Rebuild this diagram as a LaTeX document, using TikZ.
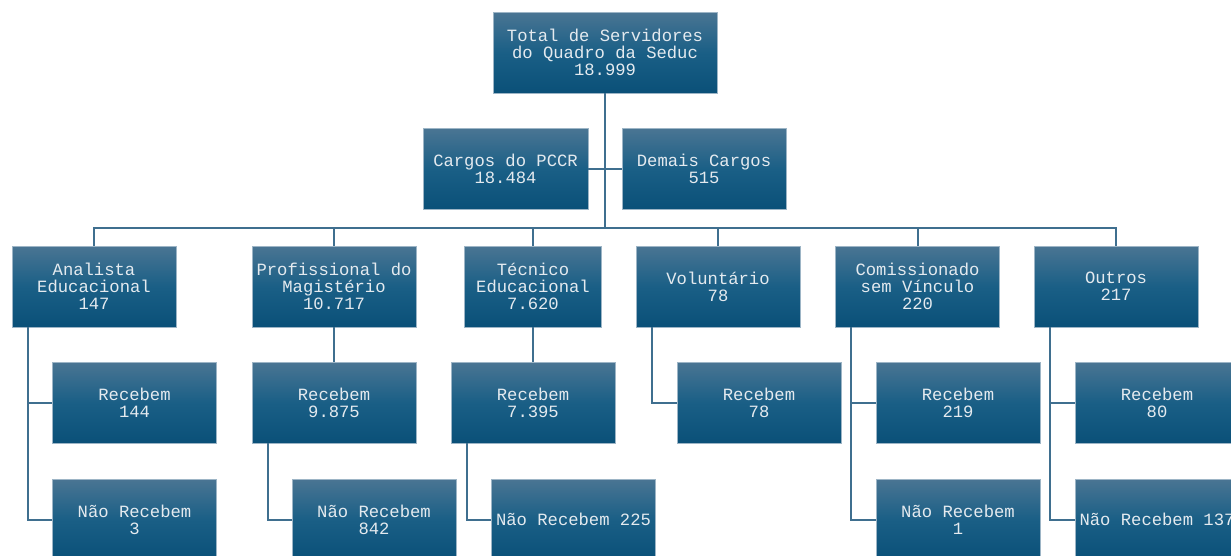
\documentclass[tikz,border=0pt]{standalone}
\usepackage{fontspec}
\setmonofont{Liberation Mono}
\definecolor{boxtop}{HTML}{4A7593}
\definecolor{boxmid}{HTML}{1A5F86}
\definecolor{boxbot}{HTML}{0A5078}
\definecolor{boxedge}{HTML}{9DB5C6}
\definecolor{linecol}{HTML}{3F6F8F}
\definecolor{txtcol}{HTML}{E4EAEF}
\tikzset{
  orgbox/.style={rectangle, top color=boxtop, bottom color=boxbot, middle color=boxmid,
    draw=boxedge, line width=0.6pt, minimum width=164pt, minimum height=81pt,
    inner sep=0pt, align=center, text=txtcol,
    font=\ttfamily\fontsize{17.2}{17}\selectfont},
  conn/.style={draw=linecol, line width=2pt}
}
\begin{document}
\begin{tikzpicture}[x=1pt,y=-1pt]
\useasboundingbox (0,0) rectangle (1231,555);
\clip (0,0) rectangle (1231,555);
\fill[white] (0,0) rectangle (1231,555);
% nodes
\node[orgbox, minimum width=224pt] (top) at (605,52.5) {Total de Servidores\\do Quadro da Seduc\\18.999};
\node[orgbox, minimum width=165pt] (pccr) at (505.5,169) {Cargos do PCCR\\18.484};
\node[orgbox] (demais) at (704,169) {Demais Cargos\\515};
\node[orgbox] (an) at (94,286.5) {Analista\\Educacional\\147};
\node[orgbox] (prof) at (334,286.5) {Profissional do\\Magistério\\10.717};
\node[orgbox, minimum width=137pt] (tec) at (533,286.5) {Técnico\\Educacional\\7.620};
\node[orgbox] (vol) at (718,286.5) {Voluntário\\78};
\node[orgbox] (com) at (917.5,286.5) {Comissionado\\sem Vínculo\\220};
\node[orgbox] (out) at (1116,286.5) {Outros\\217};
\node[orgbox] (anR) at (134.5,402.5) {Recebem\\144};
\node[orgbox] (profR) at (334,402.5) {Recebem\\9.875};
\node[orgbox] (tecR) at (533,402.5) {Recebem\\7.395};
\node[orgbox] (volR) at (759,402.5) {Recebem\\78};
\node[orgbox] (comR) at (958,402.5) {Recebem\\219};
\node[orgbox] (outR) at (1157,402.5) {Recebem\\80};
\node[orgbox] (anN) at (134.5,519.5) {Não Recebem\\3};
\node[orgbox] (profN) at (374,519.5) {Não Recebem\\842};
\node[orgbox] (tecN) at (573.5,519.5) {Não Recebem 225};
\node[orgbox] (comN) at (958,519.5) {Não Recebem\\1};
\node[orgbox] (outN) at (1157,519.5) {Não Recebem 137};
% connectors
\coordinate (bus) at (605,228);
\draw[conn] (top.south) -- (bus);
\draw[conn] (pccr.east) -- (demais.west);
\draw[conn] (an.north) |- (out.north |- bus) -- (out.north);
\draw[conn] (prof.north) -- (prof.north |- bus);
\draw[conn] (tec.north) -- (tec.north |- bus);
\draw[conn] (vol.north) -- (vol.north |- bus);
\draw[conn] (com.north) -- (com.north |- bus);
\draw[conn] ([xshift=16pt]an.south west) |- (anR.west);
\draw[conn] ([xshift=16pt]an.south west) |- (anN.west);
\draw[conn] (prof.south) -- (profR.north);
\draw[conn] ([xshift=16pt]profR.south west) |- (profN.west);
\draw[conn] (tec.south) -- (tecR.north);
\draw[conn] ([xshift=16pt]tecR.south west) |- (tecN.west);
\draw[conn] ([xshift=16pt]vol.south west) |- (volR.west);
\draw[conn] ([xshift=16pt]com.south west) |- (comR.west);
\draw[conn] ([xshift=16pt]com.south west) |- (comN.west);
\draw[conn] ([xshift=16pt]out.south west) |- (outR.west);
\draw[conn] ([xshift=16pt]out.south west) |- (outN.west);
\end{tikzpicture}
\end{document}
